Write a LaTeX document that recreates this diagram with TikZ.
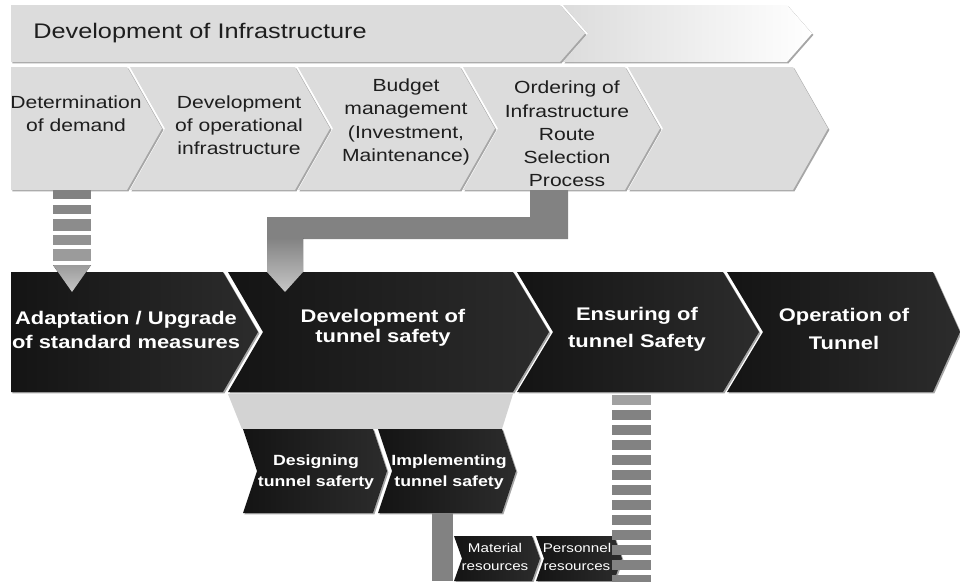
\documentclass[tikz,border=0pt]{standalone}
\usepackage{fontspec}
\setmainfont{Liberation Sans}[FakeStretch=1.2]
\usepackage{xcolor}
\definecolor{topgray}{HTML}{DCDCDC}
\definecolor{edgegray}{HTML}{A6A6A6}
\definecolor{dkleft}{HTML}{141414}
\definecolor{dkright}{HTML}{2C2C2C}
\definecolor{bargray}{HTML}{828282}
\definecolor{funnel}{HTML}{D3D3D3}
\definecolor{inktext}{HTML}{1E1E1E}

% chevron: style, x1, x2, y1, y2, tip, notch (pixel units)
\newcommand{\chev}[7]{%
  \fill[chevshadow, xshift=1pt, yshift=-1pt] (#2,#4) -- (#3,#4) -- ({#3+#6},{(#4+#5)/2}) -- (#3,#5) -- (#2,#5) -- ({#2+#7},{(#4+#5)/2}) -- cycle;
  \path[#1] (#2,#4) -- (#3,#4) -- ({#3+#6},{(#4+#5)/2}) -- (#3,#5) -- (#2,#5) -- ({#2+#7},{(#4+#5)/2}) -- cycle;}

\begin{document}
\begin{tikzpicture}[
    x=0.025cm, y=-0.025cm,
    chevshadow/.style={fill=edgegray},
    lightbox/.style={fill=topgray},
    fadebox/.style={left color=topgray, right color=white},
    darkbox/.style={left color=dkleft, right color=dkright},
    toptext/.style={text=inktext, inner sep=0pt, font=\fontsize{15}{18}\selectfont},
    rowtext/.style={text=inktext, inner sep=0pt, align=center, font=\fontsize{12.5}{16.5}\selectfont},
    mainlbl/.style={text=white, inner sep=0pt, align=center},
    sublbl/.style={text=white, inner sep=0pt, align=center, font=\fontsize{10.5}{15}\selectfont\bfseries},
    tinylbl/.style={text=white, inner sep=0pt, align=center, font=\fontsize{9}{12.5}\selectfont}
]
    \useasboundingbox (0,0) rectangle (960,581);
    \clip (0,0) rectangle (960,581);

    % development of infrastructure band
    \chev{fadebox}{563}{787}{5}{62}{25}{25}
    \chev{lightbox}{11}{560}{5}{62}{25}{0}
    \node[toptext, anchor=west] (infra) at (33,33) {Development of Infrastructure};

    \chev{lightbox}{11}{127}{67}{190}{35}{0}
    \chev{lightbox}{130}{295}{67}{190}{35}{35}
    \chev{lightbox}{298}{460}{67}{190}{35}{35}
    \chev{lightbox}{463}{625}{67}{190}{35}{35}
    \chev{lightbox}{628}{793}{67}{190}{35}{35}
    \node[rowtext] (demand) at (76,114) {Determination\\of demand};
    \node[rowtext] (opinfra) at (239,125) {Development\\of operational\\infrastructure};
    \node[rowtext] (budget) at (406,122) {Budget\\management\\(Investment,\\Maintenance)};
    \node[rowtext] (route) at (567,134) {Ordering of\\Infrastructure\\Route\\Selection\\Process};

    % main process
    \chev{darkbox}{11}{223}{272}{392}{35}{0}
    \chev{darkbox}{228}{513}{272}{392}{36}{35}
    \chev{darkbox}{517}{723}{272}{392}{36}{36}
    \chev{darkbox}{727}{933}{272}{392}{27}{36}
    \node[mainlbl, font=\fontsize{13}{17.5}\selectfont\bfseries] (adapt) at (126,330) {Adaptation / Upgrade\\of standard measures};
    \node[mainlbl, font=\fontsize{13}{14.2}\selectfont\bfseries] (devsafe) at (383,328) {Development of\\tunnel safety};
    \node[mainlbl, font=\fontsize{13}{19.5}\selectfont\bfseries] (ensure) at (637,329) {Ensuring of\\tunnel Safety};
    \node[mainlbl, font=\fontsize{13}{19.5}\selectfont\bfseries] (operate) at (844,329) {Operation of\\Tunnel};

    % demand -> adaptation
    \foreach \ya/\yb/\c in {190/199/100, 205/214/96, 219/231/92, 235/245/87, 249/261/80}
        \fill[bargray!\c!white] (53,\ya) rectangle (91,\yb);
    \fill[top color=bargray!80!white, bottom color=bargray!45!white] (53,265) -- (91,265) -- (72,292) -- cycle;

    % route selection -> development of tunnel safety
    \fill[bargray] (530,190) -- (568,190) -- (568,239) -- (267,239) -- (267,217) -- (530,217) -- cycle;
    \fill[top color=bargray, bottom color=bargray!45!white] (267,238) -- (303,238) -- (303,272) -- (285,292) -- (267,272) -- cycle;

    % sub steps
    \fill[funnel] (228,394) -- (513,394) -- (502,429) -- (242,429) -- cycle;
    \chev{darkbox}{243}{373}{429}{513}{14}{14}
    \chev{darkbox}{378}{502}{429}{513}{14}{14}
    \node[sublbl] (design) at (316,472) {Designing\\tunnel saferty};
    \node[sublbl] (implement) at (449,472) {Implementing\\tunnel safety};

    \fill[bargray] (432,513) rectangle (453,581);
    \chev{darkbox}{454}{532}{536}{581}{8}{8}
    \chev{darkbox}{536}{614}{536}{581}{8}{8}

    % ensuring -> resources
    \fill[bargray!75!white] (612,395) rectangle (651,405);
    \foreach \k in {1,...,12}
        \fill[bargray] (612,{395+15*\k}) rectangle (651,{405+15*\k});

    \node[tinylbl] (material) at (495,557) {Material\\resources};
    \node[tinylbl] (personnel) at (577,557) {Personnel\\resources};
\end{tikzpicture}
\end{document}
